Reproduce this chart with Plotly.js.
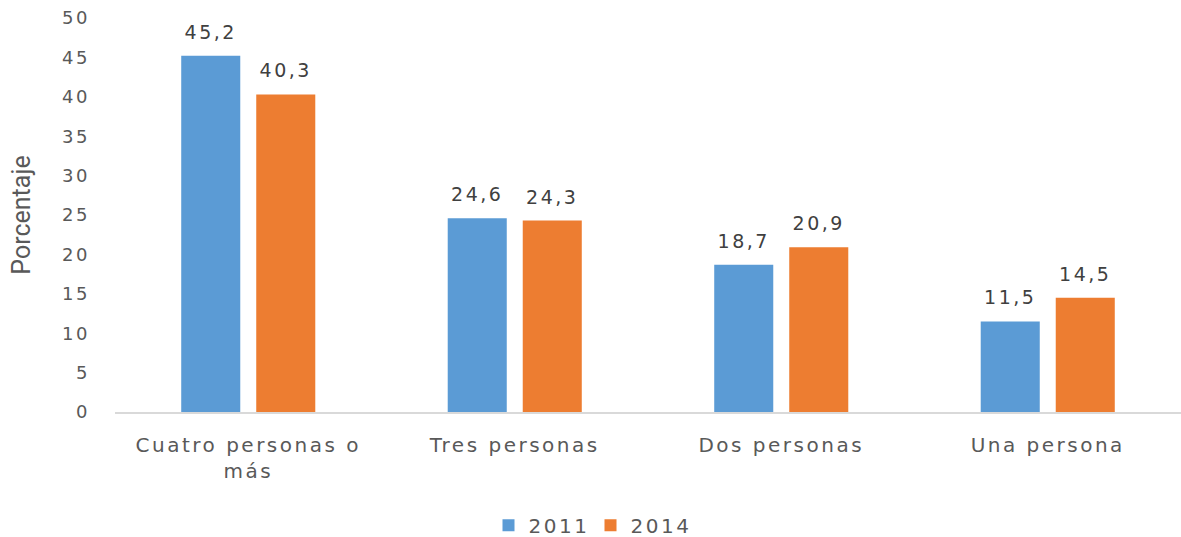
<!DOCTYPE html>
<html><head><meta charset="utf-8">
<script src="https://cdn.plot.ly/plotly-3.0.1.min.js"></script>
<style>html,body{margin:0;padding:0;background:#fff;}#chart{width:1181px;height:537px;}
#chart svg text{letter-spacing:2.5px;}
#chart svg text.ytitle{letter-spacing:0;}
</style>
</head><body><div id="chart"></div>
<script>
const categories = ["Cuatro personas o<br>más", "Tres personas", "Dos personas", "Una persona"];
const series2011 = [45.2, 24.6, 18.7, 11.5];
const series2014 = [40.3, 24.3, 20.9, 14.5];
const seriesNames = ["2011", "2014"];
const colors = ["#5b9bd5", "#ed7d31"];
const fmt = v => v.toFixed(1).replace(".", ",");
const font = "DejaVu Sans, sans-serif";
const yMax = 50, plotH = 394, liftPx = 10;
const lift = liftPx * yMax / plotH;
const traces = [];
[series2011, series2014].forEach((vals, i) => {
  traces.push({
    type: "bar", x: categories, y: vals, name: seriesNames[i],
    marker: {color: colors[i]}, offsetgroup: String(i), hoverinfo: "y"
  });
});
[series2011, series2014].forEach((vals, i) => {
  traces.push({
    type: "bar", x: categories, y: vals.map(() => lift), base: vals, showlegend: false,
    marker: {color: "rgba(0,0,0,0)"}, offsetgroup: String(i), hoverinfo: "skip",
    text: vals.map(fmt), textposition: "outside", cliponaxis: false,
    textfont: {family: font, size: 19, color: "#404040"}
  });
});
const layout = {
  width: 1181, height: 537,
  margin: {l: 115, r: 0, t: 18, b: 125},
  paper_bgcolor: "#fff", plot_bgcolor: "#fff",
  barmode: "group", bargap: 0.437, bargroupgap: 0.213,
  font: {family: font, color: "#595959", size: 18},
  xaxis: {showline: true, linecolor: "#d9d9d9", linewidth: 2, showgrid: false, ticks: "", ticklabelstandoff: 14, tickfont: {size: 20, color: "#595959"}, automargin: false},
  yaxis: {range: [0, yMax], dtick: 5, showgrid: false, zeroline: false, showline: false, ticks: "", ticklabelstandoff: 24,
    tickfont: {size: 18, color: "#595959"},
    title: {text: "Porcentaje", font: {family: "Liberation Sans Narrow, Roboto, sans-serif", size: 25, color: "#595959"}, standoff: 29}, automargin: false},
  showlegend: true,
  legend: {orientation: "h", xref: "container", yref: "container", x: 0.5, xanchor: "center", y: 0.022, yanchor: "middle", entrywidth: 57, entrywidthmode: "pixels", font: {size: 20, color: "#595959"}, traceorder: "normal"}
};
Plotly.newPlot("chart", traces, layout, {displayModeBar: false});
</script></body></html>
